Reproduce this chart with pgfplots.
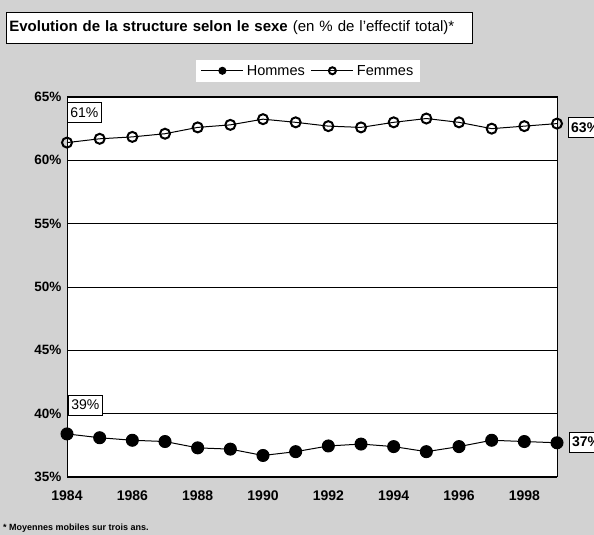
\documentclass[border=0pt]{standalone}
\usepackage{pgfplots}
\pgfplotsset{compat=1.18}
\usepackage{fontspec}
\setmainfont{Liberation Sans}
\begin{document}
\begin{tikzpicture}[x=1pt,y=1pt]
\fill[gray!35] (0,0) rectangle (594,535);
\node[draw, line width=0.8pt, fill=white, anchor=north west, minimum height=31pt,
      text width=460pt, inner xsep=3pt, align=left, font=\fontsize{15}{17}\selectfont]
  at (6,523) {\textbf{Evolution de la structure selon le sexe} (en \% de l'effectif total)*};
\begin{axis}[
  at={(67pt,58pt)}, anchor=south west, scale only axis,
  width=490pt, height=380pt,
  xmin=1984, xmax=1999, ymin=35, ymax=65,
  xtick={1984,1986,...,1998}, ytick={35,40,...,65},
  major tick length=0pt,
  /pgf/number format/assume math mode=true,
  /pgf/number format/1000 sep={},
  yticklabel={\pgfmathprintnumber{\tick}\%},
  xticklabel style={font=\fontsize{14}{16}\selectfont\bfseries, yshift=-10pt},
  yticklabel style={font=\fontsize{13.5}{16}\selectfont\bfseries, xshift=-2pt},
  ymajorgrids, grid style={black, line width=0.8pt},
  axis line style={black, line width=1pt},
  axis background/.style={fill=white},
  clip=false,
  legend columns=2,
  legend image code/.code={
    \draw[#1, mark size=3.5pt] (0pt,0pt) -- (42pt,0pt);
    \draw[#1, mark size=3.5pt] plot coordinates {(21pt,0pt)};},
  legend style={at={(0.492,1.069)}, anchor=center, draw=none, fill=white,
    font=\fontsize{14.5}{17}\selectfont, inner xsep=5pt, inner ysep=3pt,
    /tikz/every odd column/.append style={column sep=1pt},
    /tikz/every even column/.append style={column sep=4pt}},
]
\addplot[black, line width=1pt, mark=*, mark size=6pt, mark options={fill=black}]
coordinates {
(1984,38.4) (1985,38.1) (1986,37.9) (1987,37.8) (1988,37.3) (1989,37.2)
(1990,36.7) (1991,37.0) (1992,37.45) (1993,37.6) (1994,37.4) (1995,37.0)
(1996,37.4) (1997,37.9) (1998,37.8) (1999,37.7)
};
\addlegendentry{Hommes}
\addplot[black, line width=1pt, mark=o, mark size=5pt, mark options={fill=white, line width=2pt}]
coordinates {
(1984,61.4) (1985,61.7) (1986,61.85) (1987,62.1) (1988,62.6) (1989,62.8)
(1990,63.25) (1991,63.0) (1992,62.7) (1993,62.6) (1994,63.0) (1995,63.3)
(1996,63.0) (1997,62.5) (1998,62.7) (1999,62.9)
};
\addlegendentry{Femmes}
\node[draw, fill=white, line width=0.8pt, anchor=north west, inner xsep=3pt, inner ysep=5pt,
      font=\fontsize{14}{16}\selectfont] at (axis cs:1984,64.6) {61\%};
\node[draw, fill=white, line width=0.8pt, anchor=north west, inner xsep=3pt, inner ysep=5pt,
      font=\fontsize{14}{16}\selectfont] at (axis cs:1984.03,41.5) {39\%};
\node[draw, fill=white, line width=0.8pt, anchor=west, inner xsep=3pt, inner ysep=5pt,
      font=\fontsize{14}{16}\selectfont\bfseries] at (axis cs:1999.33,62.6) {63\%};
\node[draw, fill=white, line width=0.8pt, anchor=west, inner xsep=3pt, inner ysep=5pt,
      font=\fontsize{14}{16}\selectfont\bfseries] at (axis cs:1999.36,37.75) {37\%};
\end{axis}
\node[anchor=west, font=\fontsize{9}{10}\selectfont\bfseries, inner sep=1pt] at (2,7) {* Moyennes mobiles sur trois ans.};
\pgfresetboundingbox
\useasboundingbox (0,0) rectangle (594,535);
\end{tikzpicture}
\end{document}
